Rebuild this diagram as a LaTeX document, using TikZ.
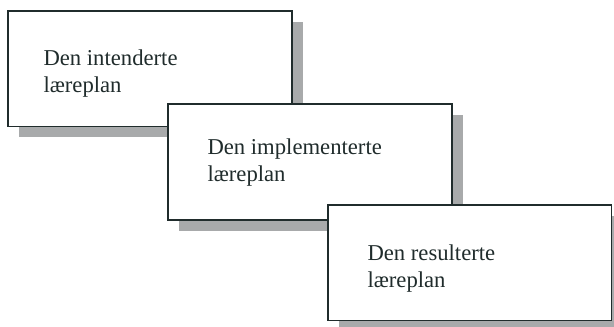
\documentclass[tikz,border=0pt]{standalone}
\usepackage{fontspec}
\setmainfont{Liberation Serif}
\usetikzlibrary{shadows}

\definecolor{edgecol}{RGB}{32,44,44}
\definecolor{shadowcol}{RGB}{168,170,171}

\tikzset{every picture/.style={line width=0.75pt}}
\tikzset{
  planbox/.style={draw=edgecol, line width=1pt, fill=white, rectangle, inner sep=0pt, outer sep=0pt,
    anchor=north west, minimum width=213pt, minimum height=86.5pt,
    drop shadow={fill=shadowcol, opacity=1, shadow xshift=8.25pt, shadow yshift=-8.25pt}},
  plantext/.style={anchor=north west, inner sep=0pt, align=left, text=edgecol,
    font=\fontsize{17}{20.1}\selectfont}
}

\begin{document}
\begin{tikzpicture}[x=0.75pt,y=0.75pt,yscale=-1,xscale=1]
\useasboundingbox (0,0) rectangle (614,327);
\clip (0,0) rectangle (614,327);

%Shape: Rectangle [id:box1]
\node [planbox] (intendert) at (8,11) {};
% Text Node
\node [plantext] (intendertlbl) at ([shift={(35,38.5)}]intendert.north west) {Den intenderte\\læreplan};

%Shape: Rectangle [id:box2]
\node [planbox, minimum height=87pt] (implementert) at (168,104) {};
% Text Node
\node [plantext] (implementertlbl) at ([shift={(39,34.5)}]implementert.north west) {Den implementerte\\læreplan};

%Shape: Rectangle [id:box3]
\node [planbox, minimum width=212.5pt] (resultert) at (328,205) {};
% Text Node
\node [plantext] (resultertlbl) at ([shift={(39,39.1)}]resultert.north west) {Den resulterte\\læreplan};

\end{tikzpicture}
\end{document}
